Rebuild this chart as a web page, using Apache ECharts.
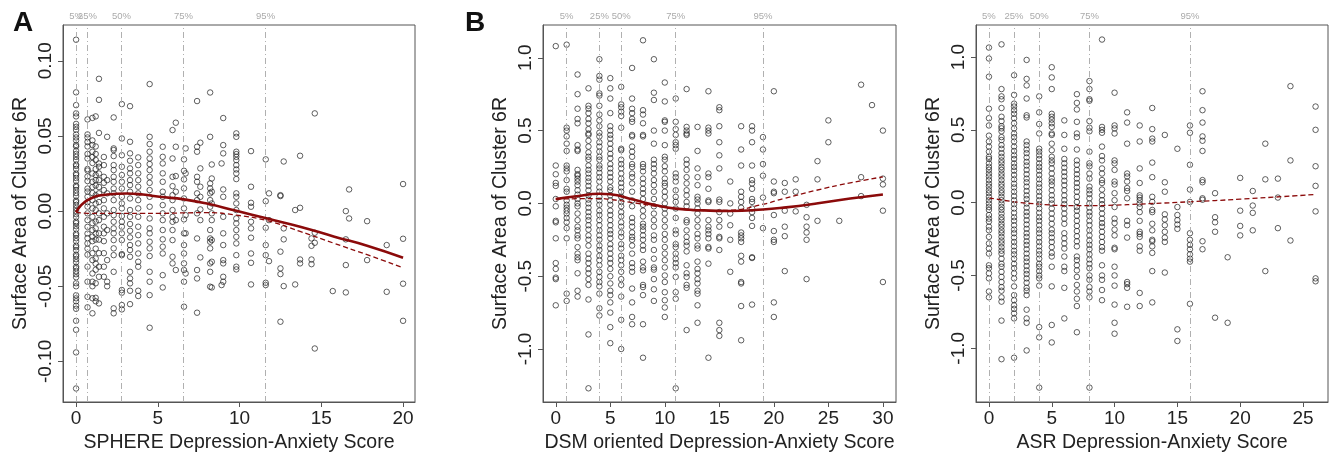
<!DOCTYPE html>
<html>
<head>
<meta charset="utf-8">
<script src="https://cdn.jsdelivr.net/npm/echarts@6/dist/echarts.min.js"></script>
<style>
  html, body { margin: 0; padding: 0; background: #fff; }
  #main { width: 1332px; height: 453px; }
</style>
</head>
<body>
<div id="main"></div>
<script>
// percentile markers
var pctLabels = ["5%", "25%", "50%", "75%", "95%"];
var spherePct = [0, 0.69, 2.78, 6.57, 11.59];
var dsmPct = [1, 4, 6, 11, 19];
var asrPct = [0, 2, 4, 8, 16];

// tick labels
var sphereXTicks = [0, 5, 10, 15, 20];
var sphereYTicks = [-0.10, -0.05, 0.00, 0.05, 0.10];
var dsmXTicks = [0, 5, 10, 15, 20, 25, 30];
var asrXTicks = [0, 5, 10, 15, 20, 25];
var areaYTicks = [-1.0, -0.5, 0.0, 0.5, 1.0];

// A: SPHERE score columns and surface area values
var sphereX = [0, 0.7, 1.0, 1.2, 1.4, 1.7, 1.9, 2.3, 2.8, 3.3, 3.8, 4.5, 5.3, 5.9, 6.1, 6.6, 6.7, 7.4, 7.6, 8.2, 8.3, 8.9, 9.0, 9.8, 10.7, 11.6, 11.8, 12.5, 12.7, 13.4, 13.7, 14.4, 14.6, 15.7, 16.5, 16.7, 17.8, 19.0, 20];
var sphereY = [
  [0.114, 0.079, 0.0705, 0.065, 0.063, 0.058, 0.056, 0.054, 0.051, 0.049, 0.047, 0.044, 0.043, 0.040, 0.038, 0.036, 0.034, 0.031, 0.030, 0.028, 0.025, 0.024, 0.022, 0.020, 0.017, 0.016, 0.014, 0.012, 0.010, 0.007, 0.006, 0.004, 0.002, 0.0, -0.002, -0.004, -0.007, -0.008, -0.010, -0.012, -0.015, -0.016, -0.018, -0.020, -0.023, -0.024, -0.026, -0.029, -0.030, -0.032, -0.034, -0.037, -0.038, -0.040, -0.042, -0.044, -0.048, -0.050, -0.056, -0.058, -0.060, -0.063, -0.065, -0.073, -0.079, -0.094, -0.118],
  [0.061, 0.051, 0.049, 0.046, 0.043, 0.038, 0.035, 0.028, 0.027, 0.023, 0.020, 0.015, 0.013, 0.0095, 0.006, 0.003, -0.0015, -0.006, -0.0105, -0.015, -0.018, -0.0215, -0.025, -0.029, -0.037, -0.047, -0.057, -0.064],
  [0.062, 0.047, 0.044, 0.0395, 0.036, 0.032, 0.025, 0.0195, 0.016, 0.012, 0.0073, 0.0018, -0.0038, -0.008, -0.0126, -0.017, -0.020, -0.028, -0.0326, -0.0415, -0.047, -0.050, -0.058, -0.068],
  [0.063, 0.043, 0.038, 0.034, 0.028, 0.024, 0.0206, 0.017, 0.0106, 0.005, 0.0007, -0.007, -0.0115, -0.015, -0.019, -0.025, -0.0315, -0.035, -0.039, -0.048, -0.0577, -0.060],
  [0.088, 0.074, 0.052, 0.0317, 0.0295, 0.025, 0.0206, 0.016, 0.0118, 0.006, -0.0015, -0.006, -0.0148, -0.019, -0.028, -0.037, -0.0437, -0.0614],
  [0.036, 0.0306, 0.0228, 0.0188, 0.014, 0.0073, 0.0018, -0.0038, -0.0104, -0.0148, -0.020, -0.028, -0.037, -0.0437],
  [0.0494, 0.0206, 0.0118, -0.0015, -0.0126, -0.0326, -0.047, -0.050],
  [0.0623, 0.0417, 0.0406, 0.0366, 0.0306, 0.0273, 0.0228, 0.0195, 0.015, 0.0118, 0.0073, 0.0007, -0.0027, -0.0071, -0.0115, -0.0148, -0.0193, -0.0248, -0.0293, -0.0404, -0.0647, -0.068],
  [0.0712, 0.0483, 0.0372, 0.0295, 0.024, 0.0195, 0.015, 0.0095, 0.0051, 0.0018, -0.0033, -0.0071, -0.0104, -0.0148, -0.0193, -0.0286, -0.0293, -0.0525, -0.0543, -0.0625, -0.0654],
  [0.0698, 0.0461, 0.0384, 0.0335, 0.0284, 0.0251, 0.0206, 0.0173, 0.0129, 0.0084, 0.0007, -0.0038, -0.0086, -0.0131, -0.0175, -0.0226, -0.0259, -0.0304, -0.0404, -0.0448, -0.0481, -0.053, -0.0619],
  [0.0357, 0.0306, 0.0251, 0.0206, 0.0162, 0.0118, 0.0073, 0.0018, -0.0038, -0.0104, -0.016, -0.0215, -0.0282, -0.0337, -0.037, -0.053, -0.0565],
  [0.0845, 0.0494, 0.0446, 0.0395, 0.035, 0.0313, 0.0273, 0.0228, 0.0188, 0.014, 0.0095, 0.0029, -0.0049, -0.0115, -0.0148, -0.0204, -0.0248, -0.0299, -0.0404, -0.047, -0.0559, -0.0776],
  [0.0428, 0.0361, 0.0317, 0.0251, 0.0195, 0.0129, 0.0095, 0.004, -0.0015, -0.006, -0.0126, -0.0188, -0.0237, -0.0282, -0.0426, -0.0508],
  [0.0539, 0.035, 0.0228, 0.0166, 0.0106, 0.0073, 0.0007, -0.0038, -0.0071, -0.0126, -0.0193, -0.0304, -0.0348],
  [0.0588, 0.0428, 0.0233, 0.0129, -0.006, -0.0392],
  [0.0344, 0.0268, 0.0211, 0.0151, 0.0084, 0.0018, -0.0055, -0.0148, -0.0226, -0.0282, -0.0348, -0.0392, -0.047, -0.0636],
  [0.0417, 0.0251, -0.0027, -0.0148, -0.0415],
  [0.0732, 0.0428, 0.0395, 0.0228, 0.0195, 0.0118, 0.0073, -0.0015, -0.0182, -0.0392, -0.0448, -0.0676],
  [0.0455, 0.0284, 0.0162, 0.0095, 0.0011, -0.006, -0.0308],
  [0.0789, 0.0494, 0.0184, 0.0151, 0.0118, 0.0073, 0.0029, -0.0126, -0.0182, -0.0204, -0.0248, -0.0348, -0.0404, -0.0503],
  [0.031, 0.0217, 0.0129, 0.0051, -0.0015, -0.006, -0.0193, -0.0337, -0.0508],
  [0.0317, -0.0492],
  [0.0619, 0.0439, 0.0384, 0.0144, 0.0095, -0.0038, -0.0148, -0.0226, -0.0326, -0.0348, -0.0437, -0.047],
  [0.0517, 0.0494, 0.0395, 0.0379, 0.0361, 0.0339, 0.0306, 0.0277, 0.0251, 0.0213, 0.0118, 0.0095, 0.0051, 0.0007, -0.0049, -0.0082, -0.0126, -0.0171, -0.0215, -0.0293, -0.037, -0.0388],
  [0.0399, 0.0162, 0.0055, 0.0029, -0.0071, -0.0115, -0.0177, -0.0282, -0.0344, -0.0488],
  [0.0344, 0.0066, -0.0111, -0.0226, -0.0293, -0.0477, -0.0492],
  [0.0118, -0.006, -0.0333],
  [0.0106, 0.010, -0.027, -0.0381, -0.0419, -0.0736],
  [0.033, -0.0115, -0.0188, -0.0499],
  [0.0007, -0.0488],
  [0.0368, 0.0022, -0.0322, -0.0348],
  [-0.0182, -0.0231, -0.0322, -0.0353],
  [0.065, -0.0144, -0.0211, -0.0914],
  [-0.0532],
  [0.0, -0.0188, -0.0359, -0.0541],
  [0.0144, -0.0049],
  [-0.0067, -0.0326],
  [-0.0226, -0.0537],
  [0.018, -0.0184, -0.0483, -0.073]
];
var sphereFitX = [0, 0.7, 1.9, 3.1, 4.1, 5.1, 6.6, 8, 9.8, 11.7, 13.7, 15.8, 17.8, 20];
var sphereSolid = [-0.0007, 0.0073, 0.011, 0.0117, 0.011, 0.0095, 0.0078, 0.005, 0.0002, -0.005, -0.0104, -0.017, -0.023, -0.031];
var sphereDashed = [-0.0007, -0.0015, -0.0015, -0.0015, -0.0015, -0.0015, -0.0012, -0.0010, -0.0027, -0.0064, -0.0135, -0.0215, -0.029, -0.0377];

// B: DSM oriented score columns
var dsmX = [0, 1, 2, 3, 4, 5, 6, 7, 8, 9, 10, 11, 12, 13, 14, 15, 16, 17, 18, 19, 20, 21, 22, 23, 24, 25, 26, 28, 29, 30];
var dsmY = [
  [1.08, 0.26, 0.2, 0.14, 0.12, 0.03, -0.02, -0.12, -0.13, -0.24, -0.41, -0.45, -0.51, -0.52, -0.7],
  [1.09, 0.52, 0.5, 0.46, 0.41, 0.36, 0.26, 0.24, 0.22, 0.16, 0.1, 0.08, 0.02, -0.01, -0.03, -0.05, -0.07, -0.1, -0.13, -0.17, -0.24, -0.62, -0.67],
  [0.885, 0.75, 0.65, 0.58, 0.55, 0.4, 0.37, 0.36, 0.23, 0.2, 0.19, 0.17, 0.15, 0.125, 0.09, 0.06, 0.03, 0.0, -0.02, -0.07, -0.115, -0.16, -0.185, -0.22, -0.24, -0.3, -0.345, -0.37, -0.39, -0.48, -0.6, -0.64],
  [0.79, 0.67, 0.65, 0.62, 0.58, 0.55, 0.51, 0.48, 0.47, 0.43, 0.39, 0.35, 0.32, 0.3, 0.26, 0.23, 0.205, 0.175, 0.15, 0.12, 0.09, 0.055, 0.026, 0.0, -0.03, -0.06, -0.09, -0.115, -0.15, -0.18, -0.22, -0.25, -0.29, -0.345, -0.38, -0.41, -0.45, -0.48, -0.52, -0.56, -0.66, -0.9, -1.27],
  [0.99, 0.875, 0.85, 0.755, 0.74, 0.67, 0.61, 0.57, 0.53, 0.485, 0.46, 0.42, 0.39, 0.355, 0.32, 0.3, 0.26, 0.24, 0.21, 0.18, 0.15, 0.11, 0.08, 0.045, 0.02, -0.01, -0.05, -0.08, -0.115, -0.15, -0.185, -0.22, -0.25, -0.29, -0.32, -0.36, -0.39, -0.425, -0.47, -0.505, -0.54, -0.57, -0.62, -0.72, -0.77],
  [0.86, 0.79, 0.72, 0.62, 0.53, 0.5, 0.47, 0.445, 0.41, 0.375, 0.34, 0.31, 0.27, 0.24, 0.21, 0.18, 0.15, 0.11, 0.09, 0.055, 0.02, -0.01, -0.05, -0.08, -0.115, -0.15, -0.185, -0.21, -0.24, -0.28, -0.31, -0.345, -0.38, -0.41, -0.45, -0.5, -0.55, -0.6, -0.63, -0.68, -0.75, -0.85, -0.96],
  [0.8, 0.68, 0.66, 0.63, 0.6, 0.52, 0.375, 0.365, 0.3, 0.27, 0.24, 0.205, 0.17, 0.14, 0.11, 0.08, 0.045, 0.01, -0.02, -0.06, -0.09, -0.13, -0.16, -0.2, -0.23, -0.28, -0.31, -0.36, -0.39, -0.425, -0.47, -0.52, -0.56, -0.64, -0.8, -1.0],
  [0.93, 0.72, 0.65, 0.62, 0.58, 0.56, 0.47, 0.46, 0.39, 0.355, 0.32, 0.27, 0.25, 0.205, 0.18, 0.137, 0.08, 0.02, -0.02, -0.1, -0.13, -0.16, -0.2, -0.23, -0.25, -0.29, -0.345, -0.41, -0.44, -0.47, -0.585, -0.68, -0.78, -0.83],
  [1.12, 0.64, 0.61, 0.55, 0.47, 0.46, 0.27, 0.25, 0.22, 0.17, 0.137, 0.1, 0.07, 0.03, -0.01, -0.05, -0.09, -0.14, -0.16, -0.185, -0.22, -0.25, -0.29, -0.32, -0.4, -0.44, -0.46, -0.56, -0.575, -0.63, -0.83, -1.06],
  [0.99, 0.76, 0.71, 0.5, 0.41, 0.3, 0.27, 0.24, 0.205, 0.16, 0.125, 0.08, 0.03, -0.02, -0.07, -0.115, -0.16, -0.22, -0.25, -0.32, -0.38, -0.44, -0.455, -0.52, -0.59, -0.67],
  [0.83, 0.7, 0.57, 0.56, 0.5, 0.4, 0.32, 0.3, 0.255, 0.22, 0.17, 0.14, 0.12, 0.08, 0.045, 0.0, -0.035, -0.07, -0.115, -0.16, -0.21, -0.25, -0.3, -0.345, -0.39, -0.44, -0.495, -0.54, -0.61, -0.665, -0.715, -0.78],
  [0.72, 0.56, 0.51, 0.47, 0.42, 0.4, 0.375, 0.205, 0.18, 0.15, 0.09, 0.045, 0.01, -0.035, -0.1, -0.185, -0.21, -0.28, -0.3, -0.345, -0.38, -0.41, -0.44, -0.505, -0.61, -0.655, -1.27],
  [0.785, 0.525, 0.5, 0.48, 0.47, 0.3, 0.27, 0.23, 0.18, 0.137, 0.09, 0.055, 0.01, -0.02, -0.115, -0.13, -0.185, -0.23, -0.265, -0.29, -0.33, -0.425, -0.48, -0.505, -0.56, -0.58, -0.87],
  [0.525, 0.36, 0.24, 0.18, 0.125, 0.045, 0.026, 0.0, -0.035, -0.07, -0.115, -0.16, -0.21, -0.24, -0.29, -0.31, -0.4, -0.45, -0.48, -0.52, -0.55, -0.6, -0.62, -0.7, -0.82],
  [0.77, 0.52, 0.5, 0.48, 0.205, 0.18, 0.1, 0.02, 0.01, -0.115, -0.16, -0.185, -0.21, -0.24, -0.3, -0.31, -0.414, -1.06],
  [0.66, 0.64, 0.53, 0.42, 0.33, 0.24, 0.026, 0.01, -0.06, -0.115, -0.16, -0.23, -0.24, -0.32, -0.82, -0.87, -0.91],
  [0.15, 0.0, -0.07, -0.15, -0.25, -0.47],
  [0.53, 0.37, 0.26, 0.08, 0.045, 0.01, -0.03, -0.2, -0.22, -0.24, -0.265, -0.36, -0.4, -0.54, -0.55, -0.705, -0.94],
  [0.53, 0.5, 0.42, 0.26, 0.16, 0.137, 0.1, 0.03, 0.01, -0.035, -0.06, -0.1, -0.155, -0.37, -0.375, -0.695],
  [0.455, 0.37, 0.27, 0.19, 0.04, -0.17],
  [0.77, 0.15, 0.08, 0.07, -0.08, -0.19, -0.25, -0.265, -0.68, -0.78],
  [0.14, 0.08, -0.05, -0.16, -0.225, -0.465],
  [0.165, 0.08, -0.055],
  [-0.01, -0.095, -0.16, -0.2, -0.25, -0.52],
  [0.29, 0.165, -0.12],
  [0.57, 0.42],
  [-0.12],
  [0.815, 0.18, 0.05],
  [0.675],
  [0.5, 0.17, 0.13, -0.05, -0.54]
];
var dsmFitX = [0, 1.9, 4, 5, 7.1, 9.2, 11, 13.2, 16, 19, 20.9, 23.9, 27, 30];
var dsmSolid = [0.029, 0.049, 0.066, 0.063, 0.026, -0.013, -0.036, -0.047, -0.052, -0.042, -0.029, -0.001, 0.033, 0.061];
var dsmDashed = [0.029, 0.032, 0.033, 0.027, 0.005, -0.02, -0.036, -0.05, -0.047, -0.006, 0.033, 0.09, 0.141, 0.182];

// C: ASR score columns
var asrX = [0, 1, 2, 3, 4, 5, 6, 7, 8, 9, 10, 11, 12, 13, 14, 15, 16, 17, 18, 19, 20, 21, 22, 23, 24, 26];
var asrY = [
  [1.065, 0.99, 0.865, 0.645, 0.58, 0.53, 0.46, 0.42, 0.385, 0.35, 0.315, 0.3, 0.27, 0.245, 0.225, 0.2, 0.18, 0.155, 0.13, 0.11, 0.085, 0.065, 0.04, 0.017, -0.006, -0.03, -0.05, -0.085, -0.11, -0.13, -0.165, -0.19, -0.235, -0.28, -0.315, -0.35, -0.43, -0.45, -0.485, -0.52, -0.61, -0.65],
  [1.087, 0.78, 0.73, 0.71, 0.65, 0.59, 0.56, 0.525, 0.51, 0.49, 0.45, 0.43, 0.395, 0.37, 0.34, 0.315, 0.29, 0.27, 0.245, 0.225, 0.2, 0.18, 0.155, 0.13, 0.11, 0.085, 0.065, 0.04, 0.017, -0.006, -0.03, -0.05, -0.075, -0.1, -0.12, -0.145, -0.165, -0.19, -0.21, -0.235, -0.26, -0.28, -0.305, -0.33, -0.35, -0.385, -0.42, -0.44, -0.475, -0.51, -0.545, -0.58, -0.605, -0.65, -0.68, -0.81, -1.075],
  [0.875, 0.74, 0.68, 0.66, 0.635, 0.61, 0.58, 0.545, 0.51, 0.475, 0.45, 0.42, 0.385, 0.355, 0.325, 0.3, 0.27, 0.245, 0.22, 0.19, 0.16, 0.13, 0.105, 0.075, 0.045, 0.017, -0.01, -0.04, -0.07, -0.1, -0.125, -0.155, -0.185, -0.21, -0.24, -0.27, -0.3, -0.33, -0.355, -0.385, -0.42, -0.45, -0.485, -0.52, -0.575, -0.635, -0.67, -0.705, -0.73, -0.76, -0.795, -1.065],
  [0.98, 0.85, 0.805, 0.715, 0.6, 0.585, 0.42, 0.395, 0.365, 0.34, 0.31, 0.28, 0.255, 0.225, 0.195, 0.165, 0.14, 0.11, 0.08, 0.05, 0.025, -0.006, -0.035, -0.065, -0.09, -0.12, -0.15, -0.18, -0.21, -0.235, -0.265, -0.29, -0.32, -0.35, -0.38, -0.405, -0.435, -0.465, -0.49, -0.52, -0.55, -0.585, -0.605, -0.635, -0.735, -0.795, -0.825, -1.015],
  [0.73, 0.62, 0.54, 0.475, 0.37, 0.35, 0.325, 0.3, 0.27, 0.245, 0.22, 0.19, 0.16, 0.13, 0.105, 0.075, 0.045, 0.017, -0.01, -0.04, -0.07, -0.1, -0.125, -0.155, -0.185, -0.21, -0.24, -0.27, -0.3, -0.33, -0.355, -0.385, -0.42, -0.44, -0.47, -0.5, -0.52, -0.57, -0.855, -0.925, -1.27],
  [0.93, 0.86, 0.78, 0.61, 0.59, 0.57, 0.545, 0.52, 0.475, 0.465, 0.405, 0.36, 0.315, 0.29, 0.27, 0.235, 0.2, 0.165, 0.145, 0.12, 0.085, 0.05, 0.02, -0.006, -0.04, -0.075, -0.11, -0.145, -0.185, -0.21, -0.24, -0.27, -0.305, -0.345, -0.37, -0.44, -0.575, -0.84, -0.96],
  [0.565, 0.465, 0.37, 0.3, 0.27, 0.24, 0.21, 0.18, 0.15, 0.12, 0.085, 0.05, 0.017, -0.01, -0.04, -0.075, -0.11, -0.145, -0.21, -0.245, -0.28, -0.315, -0.37, -0.44, -0.47, -0.585, -0.795],
  [0.745, 0.685, 0.64, 0.555, 0.475, 0.45, 0.365, 0.29, 0.26, 0.225, 0.195, 0.165, 0.135, 0.105, 0.075, 0.04, 0.005, -0.03, -0.055, -0.09, -0.125, -0.16, -0.195, -0.23, -0.265, -0.3, -0.37, -0.395, -0.43, -0.465, -0.51, -0.565, -0.61, -0.66, -0.71, -0.89],
  [0.835, 0.78, 0.71, 0.7, 0.56, 0.515, 0.49, 0.35, 0.27, 0.25, 0.2, 0.165, 0.11, 0.085, 0.06, 0.03, -0.006, -0.035, -0.065, -0.09, -0.125, -0.155, -0.19, -0.225, -0.26, -0.29, -0.32, -0.355, -0.39, -0.42, -0.45, -0.5, -0.53, -0.58, -0.61, -0.65, -1.27],
  [1.12, 0.52, 0.5, 0.48, 0.385, 0.32, 0.29, 0.235, 0.2, 0.155, 0.135, 0.09, 0.05, 0.017, -0.01, -0.04, -0.075, -0.11, -0.14, -0.165, -0.2, -0.235, -0.27, -0.305, -0.33, -0.43, -0.5, -0.53, -0.6, -0.67],
  [0.755, 0.53, 0.51, 0.475, 0.29, 0.27, 0.225, 0.145, 0.125, 0.065, 0.017, -0.03, -0.11, -0.14, -0.185, -0.225, -0.31, -0.32, -0.44, -0.5, -0.57, -0.7, -0.825, -0.9],
  [0.62, 0.55, 0.405, 0.2, 0.18, 0.145, 0.1, 0.08, 0.03, -0.125, -0.155, -0.24, -0.545, -0.56, -0.585, -0.715],
  [0.53, 0.42, 0.235, 0.135, 0.05, 0.035, 0.017, -0.006, -0.03, -0.065, -0.125, -0.2, -0.215, -0.235, -0.3, -0.33, -0.62, -0.71],
  [0.65, 0.505, 0.44, 0.42, 0.275, 0.175, 0.04, 0.005, -0.05, -0.065, -0.145, -0.19, -0.255, -0.265, -0.3, -0.345, -0.47, -0.685],
  [0.465, 0.14, 0.075, -0.08, -0.115, -0.155, -0.2, -0.24, -0.27, -0.48],
  [0.37, -0.03, -0.085, -0.12, -0.15, -0.18, -0.87, -0.95],
  [0.53, 0.48, 0.26, 0.09, 0.005, -0.21, -0.255, -0.29, -0.32, -0.355, -0.385, -0.405, -0.695],
  [0.765, 0.635, 0.55, 0.455, 0.425, 0.355, 0.155, 0.14, 0.03, 0.02, -0.265, -0.32],
  [0.065, -0.1, -0.135, -0.2, -0.79],
  [-0.375, -0.825],
  [0.17, -0.055, -0.16, -0.225],
  [0.08, -0.02, -0.07, -0.19],
  [0.405, 0.16, -0.47],
  [0.165, 0.035, -0.175],
  [0.8, 0.29, -0.26],
  [0.66, 0.5, 0.25, 0.115, -0.06, -0.52, -0.54]
];
var asrFitX = [0, 2, 4, 6, 8, 10, 12, 16, 20, 26];
var asrDashed = [0.033, 0.006, -0.01, -0.02, -0.021, -0.017, -0.01, 0.006, 0.024, 0.056];

var font = "Liberation Sans, Arial, sans-serif";
var darkRed = "#8b0a0a";

function toPoints(xs, ys) {
  var d = [];
  for (var i = 0; i < xs.length; i++) {
    for (var j = 0; j < ys[i].length; j++) {
      d.push([xs[i], ys[i][j]]);
    }
  }
  return d;
}

function toLine(xs, ys) {
  var d = [];
  for (var i = 0; i < xs.length; i++) {
    d.push([xs[i], ys[i]]);
  }
  return d;
}

function scatter(idx, xs, ys, pct) {
  var lines = [];
  for (var i = 0; i < pct.length; i++) {
    lines.push({ xAxis: pct[i], label: { formatter: pctLabels[i] } });
  }
  return {
    type: "scatter",
    xAxisIndex: idx,
    yAxisIndex: idx,
    symbol: "circle",
    symbolSize: 5.5,
    itemStyle: { color: "rgba(0,0,0,0)", borderColor: "#222", borderWidth: 0.9 },
    data: toPoints(xs, ys),
    z: 3,
    markLine: {
      silent: true,
      symbol: "none",
      animation: false,
      lineStyle: { color: "#b0b0b0", width: 1, type: [6, 3, 1, 3] },
      label: { show: true, position: "end", distance: 4, color: "#aaa", fontSize: 9.5, fontFamily: font },
      data: lines
    }
  };
}

function curve(idx, xs, ys, dashed) {
  return {
    type: "line",
    xAxisIndex: idx,
    yAxisIndex: idx,
    smooth: true,
    showSymbol: false,
    symbol: "none",
    data: toLine(xs, ys),
    lineStyle: dashed ? { color: darkRed, width: 1.3, type: [5, 3] } : { color: darkRed, width: 2.6 },
    z: dashed ? 4 : 5
  };
}

function xAxis(idx, min, max, ticks, name) {
  return {
    type: "value",
    gridIndex: idx,
    min: min,
    max: max,
    splitLine: { show: false },
    axisLine: { show: true, onZero: false, lineStyle: { color: "#555" } },
    axisTick: { show: true, length: 5, customValues: ticks, lineStyle: { color: "#555" } },
    axisLabel: { customValues: ticks, color: "#222", fontSize: 19, fontFamily: font, margin: 7 },
    name: name,
    nameLocation: "middle",
    nameGap: 30,
    nameTextStyle: { color: "#222", fontSize: 19.5, fontFamily: font }
  };
}

function yAxis(idx, min, max, ticks, dec) {
  return {
    type: "value",
    gridIndex: idx,
    min: min,
    max: max,
    splitLine: { show: false },
    axisLine: { show: true, onZero: false, lineStyle: { color: "#555" } },
    axisTick: { show: true, length: 5, customValues: ticks, lineStyle: { color: "#555" } },
    axisLabel: {
      customValues: ticks,
      rotate: 90,
      color: "#222",
      fontSize: 19,
      fontFamily: font,
      margin: 8,
      formatter: function (v) { return v.toFixed(dec); }
    },
    name: "Surface Area of Cluster 6R",
    nameLocation: "middle",
    nameGap: 32,
    nameTextStyle: { color: "#222", fontSize: 19.5, fontFamily: font }
  };
}

function grid(left, width) {
  return {
    left: left, top: 25, width: width, height: 377,
    outerBoundsMode: "none",
    containLabel: false,
    show: true, borderColor: "#555", borderWidth: 1, backgroundColor: "transparent"
  };
}

var myChart = echarts.init(document.getElementById("main"), null, { renderer: "canvas" });

var option = {
  animation: false,
  backgroundColor: "#fff",
  title: [
    { text: "A", left: 8, top: 4, textStyle: { fontSize: 28, fontWeight: "bold", color: "#111", fontFamily: font } },
    { text: "B", left: 460, top: 4, textStyle: { fontSize: 28, fontWeight: "bold", color: "#111", fontFamily: font } }
  ],
  grid: [grid(63, 352), grid(543, 353), grid(976, 352)],
  xAxis: [
    xAxis(0, -0.8, 20.73, sphereXTicks, "SPHERE Depression-Anxiety Score"),
    xAxis(1, -1.17, 31.2, dsmXTicks, "DSM oriented Depression-Anxiety Score"),
    xAxis(2, -1.03, 26.99, asrXTicks, "ASR Depression-Anxiety Score")
  ],
  yAxis: [
    yAxis(0, -0.127, 0.1238, sphereYTicks, 2),
    yAxis(1, -1.364, 1.225, areaYTicks, 1),
    yAxis(2, -1.369, 1.22, areaYTicks, 1)
  ],
  series: [
    scatter(0, sphereX, sphereY, spherePct),
    curve(0, sphereFitX, sphereDashed, true),
    curve(0, sphereFitX, sphereSolid, false),
    scatter(1, dsmX, dsmY, dsmPct),
    curve(1, dsmFitX, dsmDashed, true),
    curve(1, dsmFitX, dsmSolid, false),
    scatter(2, asrX, asrY, asrPct),
    curve(2, asrFitX, asrDashed, true)
  ]
};

myChart.setOption(option);
</script>
</body>
</html>
